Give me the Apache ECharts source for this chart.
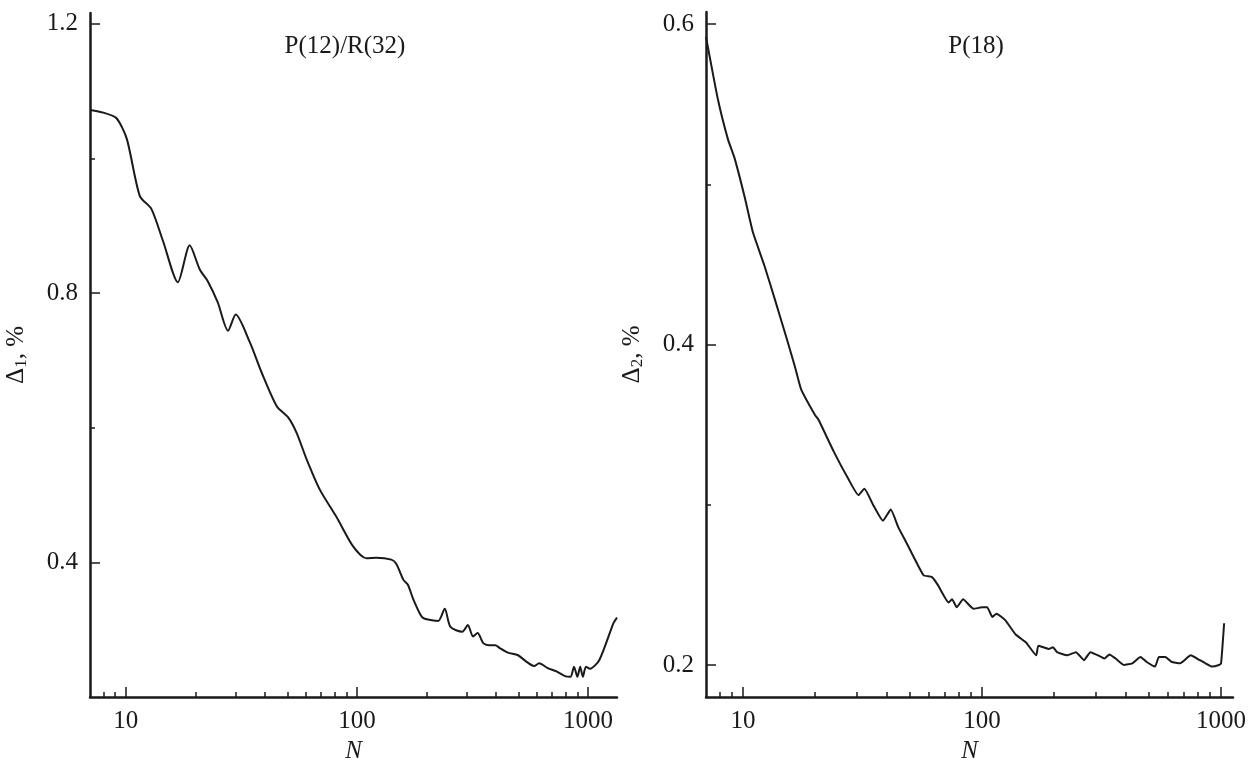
<!DOCTYPE html>
<html>
<head>
<meta charset="utf-8">
<script src="https://cdn.jsdelivr.net/npm/echarts@6/dist/echarts.min.js"></script>
<style>
  html, body { margin: 0; padding: 0; background: #fff; }
  #chart { width: 1256px; height: 762px; }
</style>
</head>
<body>
<div id="chart"></div>
<script>
// left panel: P(12)/R(32)
const leftN = [7, 8, 9.1, 10.1, 11.5, 12.9, 14.5, 16.8, 18.9, 20.9, 22.6, 25, 27.7, 29.9, 34.4, 38.7, 45, 50.5, 54.9, 60.6,
  69.1, 81.4, 96.1, 110, 121.5, 141, 148, 159, 166, 176, 191, 203, 225, 240, 254, 286, 302, 318, 333, 352,
  373, 397, 414, 450, 498, 539, 585, 614, 670, 730, 795, 840, 870, 900, 925, 950, 980, 1020, 1120, 1290, 1335];
const leftDelta = [1.072, 1.068, 1.06, 1.029, 0.944, 0.925, 0.877, 0.816, 0.871, 0.835, 0.818, 0.786, 0.744, 0.768, 0.727, 0.682, 0.632, 0.615, 0.592, 0.553,
  0.508, 0.468, 0.424, 0.406, 0.407, 0.404, 0.398, 0.374, 0.367, 0.344, 0.319, 0.315, 0.313, 0.331, 0.304, 0.297, 0.307, 0.29, 0.295, 0.28,
  0.277, 0.277, 0.273, 0.266, 0.262, 0.253, 0.246, 0.25, 0.243, 0.238, 0.231, 0.23, 0.245, 0.23, 0.245, 0.23, 0.245, 0.242, 0.255, 0.31, 0.318];

// right panel: P(18)
const rightN = [7, 7.85, 8.65, 9.23, 10.2, 11, 12.3, 13.6, 15, 16.5, 17.5, 20, 20.7, 24, 27.6, 30.4, 32.2, 35, 38.5, 41.5,
  44.6, 48.4, 56.9, 61.6, 65.3, 72.5, 74.9, 78.4, 83.3, 92.2, 100, 105, 110.5, 115, 125, 138.3, 152.8, 168.6, 172, 190,
  198, 206, 227, 247, 267, 284, 315, 325, 341, 362, 392, 425, 460, 487, 529, 550, 585, 620, 674, 747,
  793, 861, 916, 980, 1000, 1030];
const rightDelta = [0.592, 0.553, 0.528, 0.516, 0.491, 0.47, 0.449, 0.428, 0.407, 0.386, 0.372, 0.356, 0.353, 0.333, 0.316, 0.306, 0.31, 0.3, 0.29, 0.297,
  0.286, 0.276, 0.256, 0.255, 0.25, 0.239, 0.241, 0.236, 0.241, 0.235, 0.236, 0.236, 0.23, 0.232, 0.228, 0.219, 0.214, 0.206, 0.212, 0.21,
  0.211, 0.208, 0.206, 0.208, 0.203, 0.208, 0.205, 0.204, 0.2065, 0.204, 0.2, 0.201, 0.205, 0.202, 0.199, 0.205, 0.205, 0.202, 0.201, 0.206,
  0.204, 0.201, 0.199, 0.2, 0.201, 0.226];

const xMajor = [10, 100, 1000];
const xMinor = [8, 9, 20, 30, 40, 50, 60, 70, 80, 90, 200, 300, 400, 500, 600, 700, 800, 900];
const leftYMajor = [0.4, 0.8, 1.2];
const leftYMinor = [0.6, 1.0];
const rightYMajor = [0.2, 0.4, 0.6];
const rightYMinor = [0.3, 0.5];

const font = '"Liberation Serif", "Times New Roman", serif';
const ink = '#1a1a1a';

function xAxes(gridIndex, max) {
    return [{
        type: 'log',
        gridIndex: gridIndex,
        min: 7,
        max: max,
        position: 'bottom',
        name: 'N',
        nameLocation: 'middle',
        nameGap: 42,
        nameTextStyle: { color: ink, fontFamily: font, fontSize: 25, fontStyle: 'italic' },
        axisLine: { show: true, lineStyle: { color: ink, width: 2.5 } },
        axisTick: { show: true, inside: true, length: 5, lineStyle: { color: ink, width: 1.5 }, customValues: xMinor.concat(xMajor) },
        axisLabel: { show: true, color: ink, fontFamily: font, fontSize: 25, margin: 12, customValues: xMajor, formatter: v => String(v) },
        splitLine: { show: false },
        minorTick: { show: false }
    }, {
        type: 'log',
        gridIndex: gridIndex,
        min: 7,
        max: max,
        position: 'bottom',
        axisLine: { show: false },
        axisTick: { show: true, inside: true, length: 10, lineStyle: { color: ink, width: 1.5 }, customValues: xMajor },
        axisLabel: { show: false },
        splitLine: { show: false }
    }];
}

function yAxes(gridIndex, min, max, major, minor, sub) {
    return [{
        type: 'value',
        gridIndex: gridIndex,
        min: min,
        max: max,
        position: 'left',
        name: '{d|Δ}{s|' + sub + '}{d|, %}',
        nameLocation: 'middle',
        nameGap: 60,
        nameTextStyle: {
            color: ink,
            rich: {
                d: { fontFamily: font, fontSize: 25, color: ink },
                s: { fontFamily: font, fontSize: 17, color: ink, padding: [10, 0, 0, 0] }
            }
        },
        axisLine: { show: true, lineStyle: { color: ink, width: 2.5 } },
        axisTick: { show: true, inside: true, length: 5, lineStyle: { color: ink, width: 1.5 }, customValues: minor },
        axisLabel: { show: true, color: ink, fontFamily: font, fontSize: 25, margin: 12, customValues: major, formatter: v => v.toFixed(1) },
        splitLine: { show: false }
    }, {
        type: 'value',
        gridIndex: gridIndex,
        min: min,
        max: max,
        position: 'left',
        axisLine: { show: false },
        axisTick: { show: true, inside: true, length: 10, lineStyle: { color: ink, width: 1.5 }, customValues: major },
        axisLabel: { show: false },
        splitLine: { show: false }
    }];
}

const chart = echarts.init(document.getElementById('chart'), null, { renderer: 'canvas' });

const option = {
    animation: false,
    backgroundColor: '#fff',
    grid: [
        { left: 90, top: 13, width: 527, height: 684, containLabel: false, outerBoundsMode: 'none' },
        { left: 706, top: 12, width: 527, height: 685, containLabel: false, outerBoundsMode: 'none' }
    ],
    xAxis: xAxes(0, 1335).concat(xAxes(1, 1122)),
    yAxis: yAxes(0, 0.2, 1.216, leftYMajor, leftYMinor, '1').concat(yAxes(1, 0.18, 0.6075, rightYMajor, rightYMinor, '2')),
    graphic: [
        { type: 'text', x: 345, y: 46, style: { text: 'P(12)/R(32)', fill: ink, font: '25px ' + font, textAlign: 'center', verticalAlign: 'middle' } },
        { type: 'text', x: 976, y: 46, style: { text: 'P(18)', fill: ink, font: '25px ' + font, textAlign: 'center', verticalAlign: 'middle' } }
    ],
    series: [{
        type: 'line',
        xAxisIndex: 0,
        yAxisIndex: 0,
        data: leftN.map((n, i) => [n, leftDelta[i]]),
        showSymbol: false,
        smooth: 0.25,
        lineStyle: { color: ink, width: 2 }
    }, {
        type: 'line',
        xAxisIndex: 2,
        yAxisIndex: 2,
        data: rightN.map((n, i) => [n, rightDelta[i]]),
        showSymbol: false,
        smooth: 0.15,
        lineStyle: { color: ink, width: 2 }
    }]
};

chart.setOption(option);
</script>
</body>
</html>
